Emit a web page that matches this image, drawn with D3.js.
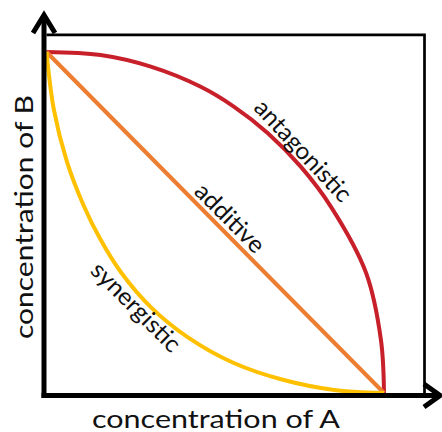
<!DOCTYPE html>
<html>
<head>
<meta charset="utf-8">
<script src="https://cdn.jsdelivr.net/npm/d3@7"></script>
<style>
  html, body { margin: 0; padding: 0; background: #fff; }
  text { font-family: Lato, "Open Sans", sans-serif; fill: #111; }
</style>
</head>
<body>
<div id="chart"></div>
<script>
// concentration of A (x) vs concentration of B (y), both scaled 0..1
const antagonistic = [
  [0, 1], [0.16, 0.991], [0.309, 0.957], [0.457, 0.898], [0.555, 0.84],
  [0.656, 0.762], [0.754, 0.663], [0.843, 0.546], [0.947, 0.352],
  [0.991, 0.155], [1, 0]
];
const additive = [[0, 1], [1, 0]];
const synergistic = [
  [0, 1], [0.022, 0.83], [0.06, 0.68], [0.11, 0.55], [0.16, 0.45],
  [0.22, 0.355], [0.309, 0.252], [0.418, 0.164], [0.555, 0.088],
  [0.703, 0.038], [0.852, 0.009], [1, 0]
];
const seriesNames = ["antagonistic", "additive", "synergistic"];
const axisLabels = ["concentration of A", "concentration of B"];

const W = 442, H = 432;
const colors = { antagonistic: "#c8202a", additive: "#ed7d31", synergistic: "#ffc000" };

const svg = d3.select("#chart").append("svg")
  .attr("width", W)
  .attr("height", H);

const x = d3.scaleLinear().domain([0, 1]).range([46.5, 384]);
const y = d3.scaleLinear().domain([0, 1]).range([393, 52]);

// frame
svg.append("path")
  .attr("d", `M${x(0)},${y(1.05)} H${x(1.12)} V${y(0)}`)
  .attr("fill", "none")
  .attr("stroke", "#000")
  .attr("stroke-width", 2.7);

// curves
const line = d3.line()
  .x(d => x(d[0]))
  .y(d => y(d[1]))
  .curve(d3.curveCatmullRom.alpha(0.5));

const series = { antagonistic, additive, synergistic };
seriesNames.forEach(name => {
  svg.append("path")
    .attr("d", line(series[name]))
    .attr("fill", "none")
    .attr("stroke", colors[name])
    .attr("stroke-width", 4)
    .attr("stroke-linecap", "butt");
});

// axes with open arrowheads
const ax = svg.append("g")
  .attr("fill", "none")
  .attr("stroke", "#000")
  .attr("stroke-width", 5);

ax.append("path").attr("d", `M44,398 V15`);
ax.append("path").attr("d", `M41.5,395.5 H440`);
ax.append("path")
  .attr("stroke-linejoin", "miter")
  .attr("d", `M33,33 L44,15 L55,33`);
ax.append("path")
  .attr("stroke-linejoin", "miter")
  .attr("d", `M424,384 L440,395.5 L424,407`);

// axis labels
svg.append("text")
  .attr("x", 216)
  .attr("y", 428)
  .attr("text-anchor", "middle")
  .attr("font-size", 25)
  .attr("textLength", 248)
  .attr("lengthAdjust", "spacingAndGlyphs")
  .text(axisLabels[0]);

svg.append("text")
  .attr("transform", "translate(33,217) rotate(-90)")
  .attr("text-anchor", "middle")
  .attr("font-size", 25)
  .attr("textLength", 244)
  .attr("lengthAdjust", "spacingAndGlyphs")
  .text(axisLabels[1]);

// curve labels: [x, y, angle, length]
const labelPos = {
  antagonistic: [0.763, 0.713, 47, 130],
  additive: [0.546, 0.516, 45, 88],
  synergistic: [0.268, 0.255, 45, 116]
};
seriesNames.forEach(name => {
  const p = labelPos[name];
  svg.append("text")
    .attr("transform", `translate(${x(p[0])},${y(p[1])}) rotate(${p[2]})`)
    .attr("text-anchor", "middle")
    .attr("dominant-baseline", "central")
    .attr("font-size", 24)
    .attr("textLength", p[3])
    .attr("lengthAdjust", "spacingAndGlyphs")
    .text(name);
});
</script>
</body>
</html>
